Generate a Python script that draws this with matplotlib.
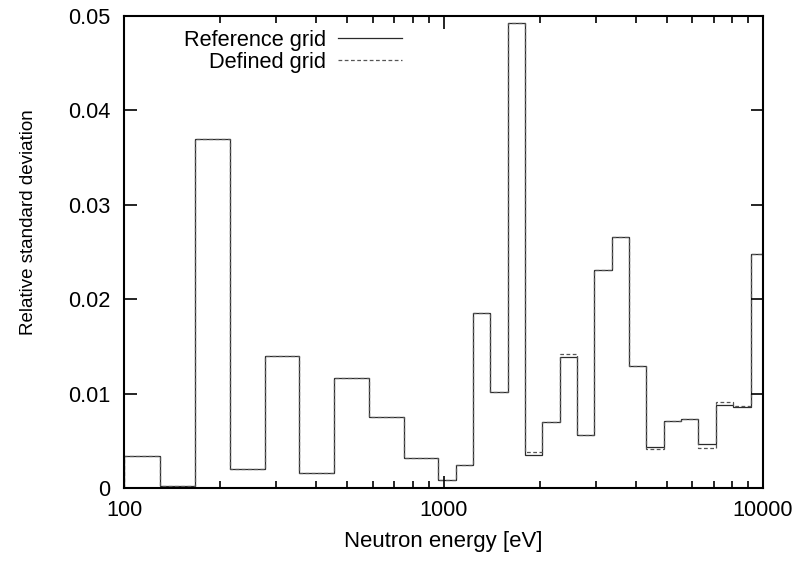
import matplotlib
matplotlib.use("Agg")
import matplotlib.pyplot as plt
from matplotlib.ticker import FixedLocator, FixedFormatter, LogLocator, NullFormatter

plt.rcParams['font.family'] = ['Liberation Sans', 'DejaVu Sans']

# group boundaries [eV]
edges = [100, 130, 167, 215, 276, 354, 455, 584, 750, 963,
         1091, 1237, 1402, 1588, 1800, 2040, 2311, 2619, 2968, 3363,
         3811, 4318, 4893, 5544, 6282, 7119, 8066, 9140, 10000]

ref_grid = [0.0034, 0.0002, 0.0370, 0.0020, 0.0140, 0.0016, 0.0116, 0.0075, 0.0032,
            0.0008, 0.0024, 0.0185, 0.0102, 0.0493, 0.0035, 0.0070, 0.0139, 0.0056,
            0.0231, 0.0266, 0.0129, 0.0043, 0.0071, 0.0073, 0.0047, 0.0088, 0.0086,
            0.0248]

def_grid = [0.0034, 0.0002, 0.0370, 0.0020, 0.0140, 0.0016, 0.0116, 0.0075, 0.0032,
            0.0008, 0.0024, 0.0185, 0.0102, 0.0493, 0.0038, 0.0070, 0.0142, 0.0056,
            0.0231, 0.0266, 0.0129, 0.0041, 0.0071, 0.0073, 0.0042, 0.0091, 0.0087,
            0.0248]

yticks = [0, 0.01, 0.02, 0.03, 0.04, 0.05]
ytick_labels = ["0", "0.01", "0.02", "0.03", "0.04", "0.05"]
xticks = [100, 1000, 10000]
xtick_labels = ["100", "1000", "10000"]

fig = plt.figure(figsize=(7.99, 5.62), dpi=100)
ax = fig.add_axes([124 / 799, 1 - 488 / 562, 639 / 799, 472 / 562])

ax.stairs(ref_grid, edges, color="#2a2a2a", lw=0.9, label="Reference grid")
ax.stairs(def_grid, edges, color="#555555", lw=0.9, linestyle=(0, (3, 2)),
          label="Defined grid")

ax.set_xscale("log")
ax.set_xlim(100, 10000)
ax.set_ylim(0, 0.05)

ax.xaxis.set_major_locator(FixedLocator(xticks))
ax.xaxis.set_major_formatter(FixedFormatter(xtick_labels))
ax.xaxis.set_minor_locator(LogLocator(base=10, subs=range(2, 10)))
ax.xaxis.set_minor_formatter(NullFormatter())
ax.yaxis.set_major_locator(FixedLocator(yticks))
ax.yaxis.set_major_formatter(FixedFormatter(ytick_labels))

ax.tick_params(which="both", direction="in", top=True, right=True, width=1.2,
               labelsize=15.7)
ax.tick_params(axis="y", pad=10)
ax.tick_params(axis="x", pad=9)
ax.tick_params(which="major", length=9)
ax.tick_params(which="minor", length=5)
for s in ax.spines.values():
    s.set_linewidth(1.5)

ax.set_xlabel("Neutron energy [eV]", fontsize=15.9, labelpad=7)
ax.set_ylabel("Relative standard deviation", fontsize=13.5)
ax.yaxis.set_label_coords(-0.136, 0.5636)

ax.legend(loc="upper right", bbox_to_anchor=(402 / 799, 1 - 30 / 562),
          bbox_transform=fig.transFigure, frameon=False, markerfirst=False,
          fontsize=15.7, handlelength=2.95, handletextpad=0.55, labelspacing=0.05,
          borderpad=0, borderaxespad=0)

fig.savefig("out.png", dpi=100)
